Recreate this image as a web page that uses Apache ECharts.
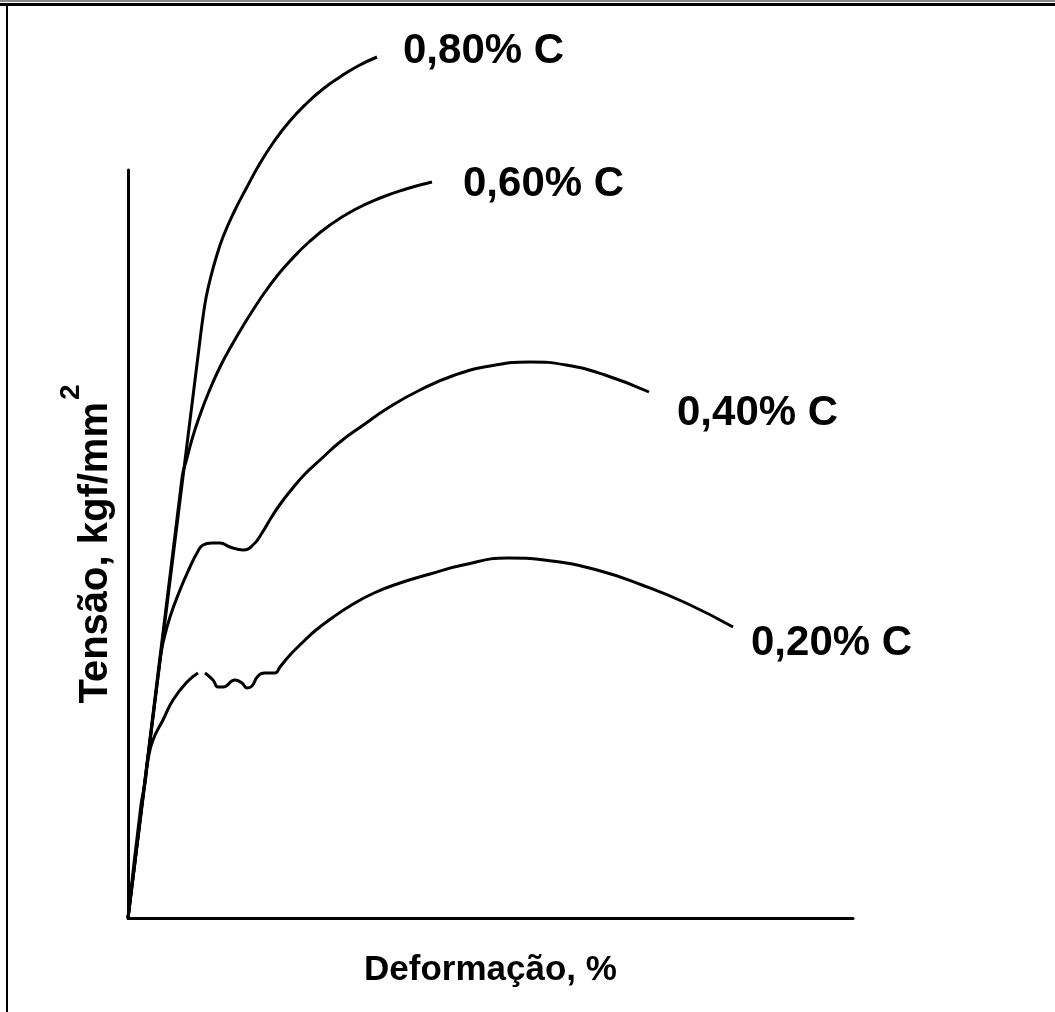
<!DOCTYPE html>
<html>
<head>
<meta charset="utf-8">
<script src="https://cdn.jsdelivr.net/npm/echarts@6/dist/echarts.min.js"></script>
<style>
  html, body { margin: 0; padding: 0; background: #fff; }
  #chart { width: 1055px; height: 1012px; }
</style>
</head>
<body>
<div id="chart"></div>
<script>
// deformacao (x) x tensao (y), unidades arbitrarias
const c080 = [[0, 0], [72, 578], [75, 601], [78, 620], [82, 638], [88, 660], [95, 681], [106, 706], [119, 731],
    [131, 753], [145, 775], [161, 796], [179, 815], [195, 829], [212, 841], [230, 852], [249, 861]];
const c060 = [[0, 0], [54, 440], [59, 460], [65, 482], [72, 503], [80, 524], [92, 551], [105, 575], [115, 592],
    [125, 608], [137, 626], [149, 642], [162, 657], [181, 676], [202, 693], [226, 708], [252, 720], [278, 729],
    [304, 736]];
const c040 = [[0, 0], [32, 258], [35, 275], [42, 301], [52, 328], [62, 351], [69, 365], [75, 373], [84, 375],
    [92, 375], [102, 371], [115, 368], [125, 373], [134, 385], [143, 400], [153, 415], [164, 429], [177, 444],
    [192, 458], [212, 476], [234, 492], [260, 510], [292, 528], [327, 543], [362, 552], [402, 556], [438, 553],
    [477, 543], [521, 526]];
const c020 = [[0, 0], [13, 113], [17, 135], [20, 158], [25, 178], [35, 198], [45, 218], [59, 236], [70, 245],
    [73, '-'],
    [77, 245], [85, 238], [90, 231], [95, 231], [107, 238], [114, 235], [119, 230], [124, 232], [130, 242],
    [137, 245], [147, 245], [152, 251], [162, 263], [174, 275], [188, 288], [204, 300], [222, 312], [246, 325],
    [272, 335], [302, 344], [335, 353], [380, 360], [424, 357], [469, 348], [514, 333], [558, 315], [605, 291]];

const labels = ['0,80% C', '0,60% C', '0,40% C', '0,20% C'];
const curves = [c080, c060, c040, c020];
const labelOffsets = [[18, -6], [23, 2], [20, 21], [10, 16]];

const FONT = 'Liberation Sans';

const myChart = echarts.init(document.getElementById('chart'));

const series = curves.map(function (d, i) {
    return {
        name: labels[i],
        type: 'line',
        data: d,
        smooth: 0.5,
        symbol: 'none',
        clip: false,
        connectNulls: false,
        lineStyle: { color: '#000', width: 3 },
        endLabel: {
            show: true,
            formatter: labels[i],
            offset: labelOffsets[i],
            color: '#000',
            fontFamily: FONT,
            fontWeight: 'bold',
            fontSize: 42
        },
        animation: false
    };
});

myChart.setOption({
    backgroundColor: '#fff',
    animation: false,
    grid: { left: 128, right: 202, top: 170, bottom: 94 },
    xAxis: {
        type: 'value',
        min: 0,
        max: 725,
        name: 'Deformação, %',
        nameLocation: 'middle',
        nameGap: 35,
        nameTextStyle: { color: '#000', fontFamily: FONT, fontWeight: 'bold', fontSize: 35 },
        axisLine: { lineStyle: { color: '#000', width: 3 } },
        axisTick: { show: false },
        axisLabel: { show: false },
        splitLine: { show: false }
    },
    yAxis: {
        type: 'value',
        min: 0,
        max: 748,
        name: '{b|Tensão, kgf/mm}{s|2}',
        nameLocation: 'middle',
        nameRotate: 90,
        nameGap: 12,
        nameTextStyle: {
            color: '#000',
            rich: {
                b: { fontFamily: FONT, fontWeight: 'bold', fontSize: 40, color: '#000', lineHeight: 40 },
                s: { fontFamily: FONT, fontWeight: 'bold', fontSize: 28, color: '#000', lineHeight: 28, padding: [0, 0, 50, 2] }
            }
        },
        axisLine: { lineStyle: { color: '#000', width: 3 } },
        axisTick: { show: false },
        axisLabel: { show: false },
        splitLine: { show: false }
    },
    graphic: [
        { type: 'rect', shape: { x: 0, y: 0, width: 1055, height: 2 }, style: { fill: '#888' } },
        { type: 'rect', shape: { x: 0, y: 3, width: 1055, height: 3 }, style: { fill: '#000' } },
        { type: 'rect', shape: { x: 6, y: 3, width: 2, height: 1009 }, style: { fill: '#000' } }
    ],
    series: series
});
</script>
</body>
</html>
